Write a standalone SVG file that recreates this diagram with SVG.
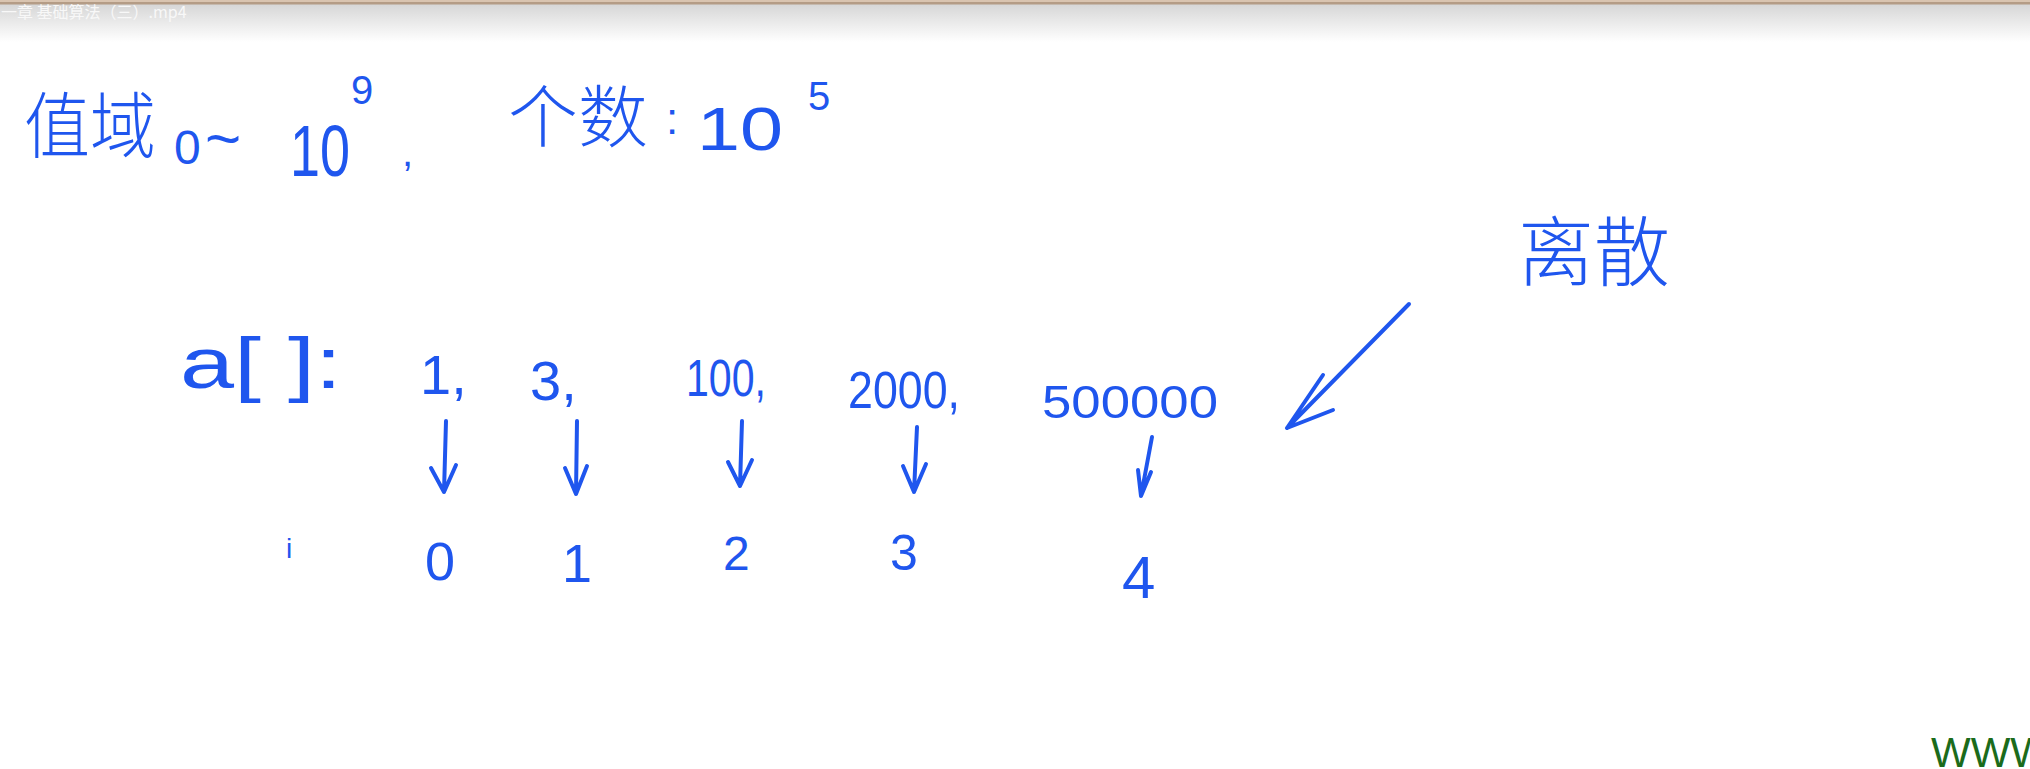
<svg xmlns="http://www.w3.org/2000/svg" width="2030" height="769" viewBox="0 0 2030 769">
<defs>
<linearGradient id="bar" x1="0" y1="0" x2="0" y2="1">
<stop offset="0" stop-color="#d6d6d6"/>
<stop offset="1" stop-color="#ffffff"/>
</linearGradient>
</defs>
<style>
.ink{fill:#1f56ee;font-family:"Liberation Sans","Noto Sans CJK SC",sans-serif}
.cjk{fill:#1f56ee;font-family:"Noto Sans CJK SC",sans-serif;font-weight:300}
.pen{fill:none;stroke:#1f56ee;stroke-width:4;stroke-linecap:round;stroke-linejoin:round}
</style>
<rect width="2030" height="769" fill="#ffffff"/>
<rect x="0" y="4" width="2030" height="38" fill="url(#bar)"/>
<rect x="0" y="0" width="2030" height="2" fill="#d9c4b0"/>
<rect x="0" y="2" width="2030" height="2.5" fill="#b49c86"/>
<g id="title"><text x="1" y="18" font-family="'Noto Sans CJK SC',sans-serif" font-size="16" fill="#f8f8f8">一章 基础算法（三）.mp4</text></g>

<g id="line1">
<text class="cjk" x="24" y="152" font-size="72" textLength="132" lengthAdjust="spacingAndGlyphs">值域</text>
<text class="ink" x="174" y="164" font-size="48">0</text>
<text class="ink" x="205" y="160" font-size="62">~</text>
<text class="ink" x="290" y="176" font-size="72" textLength="60" lengthAdjust="spacingAndGlyphs">10</text>
<text class="ink" x="351" y="104" font-size="40">9</text>
<text class="ink" x="402" y="166" font-size="40">,</text>
<text class="cjk" x="508" y="142" font-size="68" textLength="140" lengthAdjust="spacingAndGlyphs">个数</text>
<text class="ink" x="666" y="134" font-size="44">:</text>
<text class="ink" x="697" y="150" font-size="62" textLength="86" lengthAdjust="spacingAndGlyphs">10</text>
<text class="ink" x="808" y="110" font-size="40">5</text>
</g>

<g id="array">
<text class="ink" x="180" y="388" font-size="72" textLength="162" lengthAdjust="spacingAndGlyphs">a[ ]:</text>
<text class="ink" x="420" y="394" font-size="56">1,</text>
<text class="ink" x="530" y="400" font-size="56">3,</text>
<text class="ink" x="686" y="396" font-size="52" textLength="80" lengthAdjust="spacingAndGlyphs">100,</text>
<text class="ink" x="848" y="408" font-size="52" textLength="112" lengthAdjust="spacingAndGlyphs">2000,</text>
<text class="ink" x="1042" y="418" font-size="46" textLength="176" lengthAdjust="spacingAndGlyphs">500000</text>
</g>

<g id="index">
<text class="ink" x="286" y="558" font-size="28">i</text>
<text class="ink" x="425" y="580" font-size="54">0</text>
<text class="ink" x="562" y="582" font-size="54">1</text>
<text class="ink" x="723" y="570" font-size="48">2</text>
<text class="ink" x="890" y="570" font-size="50">3</text>
<text class="ink" x="1122" y="598" font-size="60">4</text>
</g>

<g id="label">
<text class="cjk" x="1518" y="280" font-size="76" textLength="152" lengthAdjust="spacing">离散</text>
</g>

<g id="connectors">
<path class="pen" d="M446 421 L444 492 M431 468 L444 492 L456 465"/>
<path class="pen" d="M577 421 L576 494 M565 468 L576 494 L587 466"/>
<path class="pen" d="M742 421 L740 486 M728 462 L740 486 L752 460"/>
<path class="pen" d="M917 427 L914 492 M903 466 L914 492 L926 464"/>
<path class="pen" d="M1152 437 L1141 496 M1138 470 L1141 496 L1151 472"/>
<path class="pen" stroke-width="6" d="M1409 304 L1287 428 M1323 375 L1287 428 L1333 410"/>
</g>

<g id="watermark"><text x="1931" y="767" font-family="'Liberation Sans',sans-serif" font-size="42" fill="#1b6b1b">WWW</text></g>
</svg>
